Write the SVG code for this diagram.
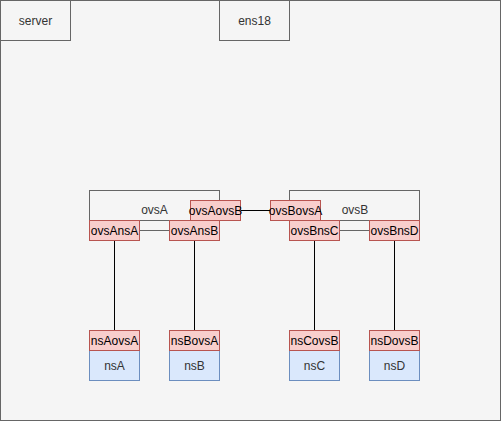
<svg xmlns="http://www.w3.org/2000/svg" width="501" height="421" viewBox="0 0 501 421">
<style>
text{font-family:"Liberation Sans",Arial,sans-serif;font-size:12px;text-anchor:middle;dominant-baseline:central}
.box{fill:#f5f5f5;stroke:#666666;stroke-width:1}
.grey{fill:#333333}
.port{fill:#f8cecc;stroke:#b85450;stroke-width:1}
.ns{fill:#dae8fc;stroke:#6c8ebf;stroke-width:1}
.blk{fill:#000000}
.c{stroke:#000000;stroke-width:1;fill:none}
.cg{stroke:#666666;stroke-width:1;fill:none}
</style>
<g id="server-host">
<rect class="box" x="0.5" y="0.5" width="500" height="420"/>
</g>
<g id="server">
<rect class="box" x="0.5" y="0.5" width="70" height="40"/>
<text class="grey" x="35.5" y="20.5">server</text>
</g>
<g id="ens18">
<rect class="box" x="219.5" y="0.5" width="70" height="40"/>
<text class="grey" x="254.5" y="20.5">ens18</text>
</g>
<g id="ovsA">
<rect class="box" x="89.5" y="190.5" width="130" height="30"/>
<text class="grey" x="154.5" y="210">ovsA</text>
</g>
<g id="ovsB">
<rect class="box" x="289.5" y="190.5" width="130" height="30"/>
<text class="grey" x="355" y="210">ovsB</text>
</g>
<g id="connectors">
<line class="cg" x1="139.5" y1="230.5" x2="169.5" y2="230.5"/>
<line class="cg" x1="339.5" y1="230.5" x2="369.5" y2="230.5"/>
<line class="c" x1="240.5" y1="210.5" x2="270.5" y2="210.5"/>
<line class="c" x1="114.5" y1="240.5" x2="114.5" y2="330.5"/>
<line class="c" x1="194.5" y1="240.5" x2="194.5" y2="330.5"/>
<line class="c" x1="314.5" y1="240.5" x2="314.5" y2="330.5"/>
<line class="c" x1="394.5" y1="240.5" x2="394.5" y2="330.5"/>
</g>
<g id="ovsAovsB">
<rect class="port" x="190.5" y="200.5" width="50" height="20"/>
<text class="blk" x="215.5" y="210.5">ovsAovsB</text>
</g>
<g id="ovsBovsA">
<rect class="port" x="270.5" y="200.5" width="50" height="20"/>
<text class="blk" x="295.5" y="210.5">ovsBovsA</text>
</g>
<g id="ovsAnsA">
<rect class="port" x="89.5" y="220.5" width="50" height="20"/>
<text class="blk" x="114.5" y="230.5">ovsAnsA</text>
</g>
<g id="ovsAnsB">
<rect class="port" x="169.5" y="220.5" width="50" height="20"/>
<text class="blk" x="194.5" y="230.5">ovsAnsB</text>
</g>
<g id="ovsBnsC">
<rect class="port" x="289.5" y="220.5" width="50" height="20"/>
<text class="blk" x="314.5" y="230.5">ovsBnsC</text>
</g>
<g id="ovsBnsD">
<rect class="port" x="369.5" y="220.5" width="50" height="20"/>
<text class="blk" x="394.5" y="230.5">ovsBnsD</text>
</g>
<g id="nsA">
<rect class="ns" x="89.5" y="350.5" width="50" height="30"/>
<text class="grey" x="114.5" y="365.5">nsA</text>
<rect class="port" x="89.5" y="330.5" width="50" height="20"/>
<text class="blk" x="114.5" y="340.5">nsAovsA</text>
</g>
<g id="nsB">
<rect class="ns" x="169.5" y="350.5" width="50" height="30"/>
<text class="grey" x="194.5" y="365.5">nsB</text>
<rect class="port" x="169.5" y="330.5" width="50" height="20"/>
<text class="blk" x="194.5" y="340.5">nsBovsA</text>
</g>
<g id="nsC">
<rect class="ns" x="289.5" y="350.5" width="50" height="30"/>
<text class="grey" x="314.5" y="365.5">nsC</text>
<rect class="port" x="289.5" y="330.5" width="50" height="20"/>
<text class="blk" x="314.5" y="340.5">nsCovsB</text>
</g>
<g id="nsD">
<rect class="ns" x="369.5" y="350.5" width="50" height="30"/>
<text class="grey" x="394.5" y="365.5">nsD</text>
<rect class="port" x="369.5" y="330.5" width="50" height="20"/>
<text class="blk" x="394.5" y="340.5">nsDovsB</text>
</g>
</svg>
